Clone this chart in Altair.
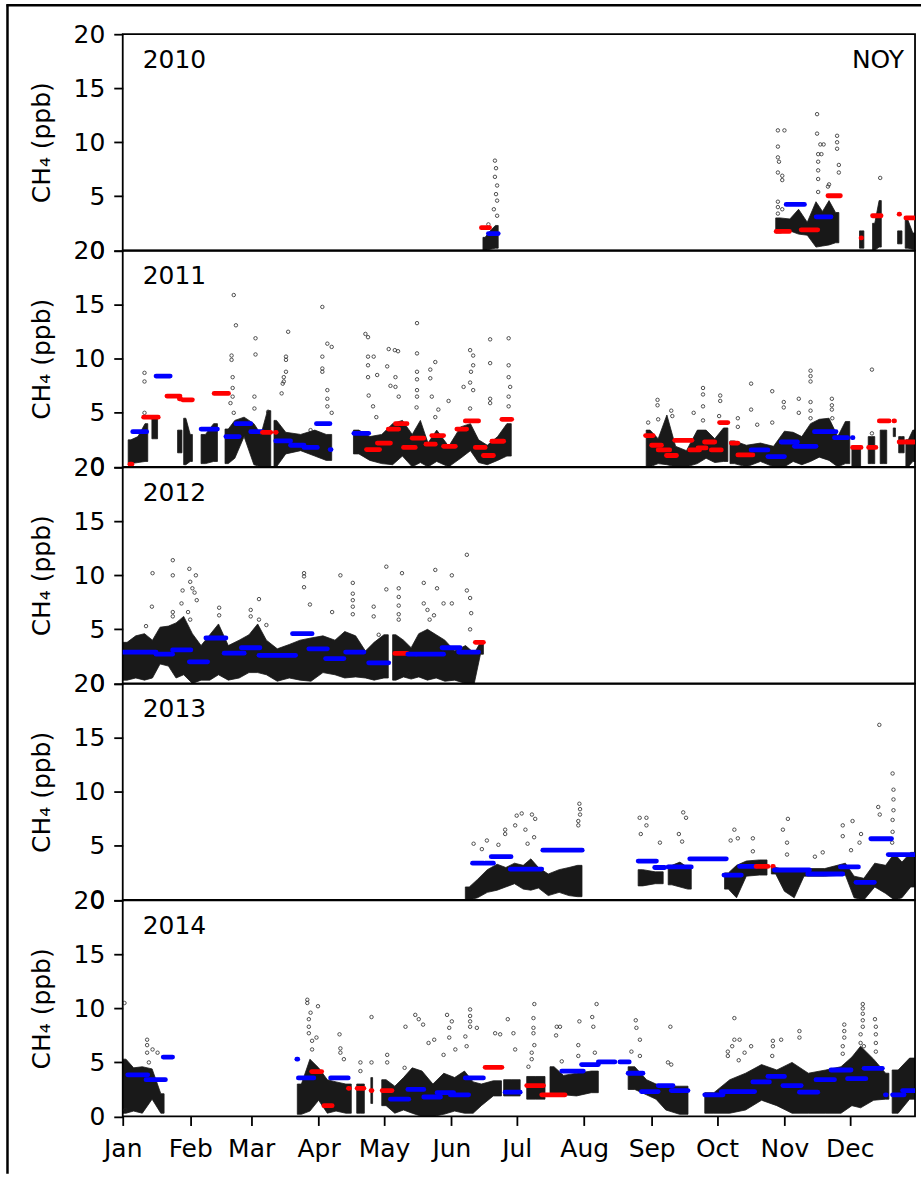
import altair as alt
import pandas as pd

# ---------------- data ----------------
YEARS = [2010, 2011, 2012, 2013, 2014]
SITE = "NOY"
Y_TITLE = "CH\u2084 (ppb)"
MONTH_NAMES = ["Jan", "Feb", "Mar", "Apr", "May", "Jun", "Jul", "Aug", "Sep", "Oct", "Nov", "Dec"]
MONTH_START_DAYS = [0, 31, 59, 90, 120, 151, 181, 212, 243, 273, 304, 334]
Y_TICKS = [0, 5, 10, 15, 20]

# dense hourly clouds: (day_start, day_end, low, high)
dense_2010 = [(165.5, 167.5, 0.0, 1.2), (167.5, 170, 0.1, 1.8), (170, 172.5, 0.2, 2.3),
              (300, 304, 1.6, 3.0), (304, 309, 1.8, 2.9), (309, 312, 1.5, 3.8), (312, 317, 1.4, 2.6),
              (317, 320, 0.3, 4.5), (320, 323, 0.4, 3.6), (323, 326, 0.5, 4.6), (326, 329, 0.7, 3.5),
              (338.5, 340.5, 0.2, 1.8), (344.5, 346.5, 0.0, 2.5), (346.5, 348.5, 0.3, 4.6),
              (356, 358, 0.6, 1.8), (359.5, 362, 0.2, 2.8), (362, 364, 0.1, 1.6)]
dense_2011 = [(2.5, 5, 0.3, 2.5), (5, 9, 0.4, 2.8), (9, 11.5, 0.5, 4.0), (13.4, 16, 2.6, 4.6),
              (25.2, 27.2, 1.3, 3.4), (28, 30, 0.2, 4.5), (30, 32, 0.5, 3.0), (36, 40, 0.3, 3.0),
              (40, 43.5, 0.5, 4.0), (47, 50, 0.3, 3.5), (50, 53, 0.8, 4.3), (53, 58.5, 2.8, 4.6),
              (58.5, 62, 0.2, 4.0), (62, 65, 0.0, 3.0), (65, 68, 0.0, 5.2), (69.5, 71.8, 0.0, 4.3),
              (71.8, 78, 1.2, 3.2), (78, 85.5, 1.5, 3.0), (85.5, 91, 1.0, 3.4), (91, 96, 0.6, 3.0),
              (106, 111, 1.2, 3.4), (111, 116, 0.6, 2.8), (116, 122, 0.3, 3.0), (122, 126, 0.2, 4.0),
              (126, 131, 1.0, 4.3), (131, 135, 0.0, 3.0), (135, 138.5, 0.4, 4.3), (138.5, 142, 0.0, 2.2),
              (142, 146.5, 0.5, 3.4), (146.5, 153, 0.0, 1.9), (153, 157.5, 0.8, 3.7), (157.5, 162, 1.5, 4.0),
              (162, 165, 0.4, 2.5), (165, 170, 0.2, 2.0), (170, 174.5, 0.6, 2.8), (174.5, 178.5, 1.0, 4.0),
              (240.5, 244, 0.0, 3.4), (244, 248, 0.3, 2.6), (248, 252, 0.2, 4.8), (252, 256, 0.0, 1.9),
              (256, 262, 0.0, 1.5), (262, 266, 0.3, 3.4), (266, 270, 0.8, 3.4), (270, 274, 0.4, 2.6),
              (274, 278, 0.5, 3.6), (279, 283, 0.3, 2.4), (283, 290, 0.0, 2.0), (290, 296, 0.5, 2.2),
              (296, 302, 0.0, 1.9), (302, 306, 0.0, 3.3), (306, 310, 0.5, 3.2), (310, 314, 0.2, 2.8),
              (314, 318, 0.5, 4.0), (318, 322, 0.9, 4.4), (322, 327, 0.6, 4.5), (327, 330, 0.0, 2.8),
              (330, 334, 0.3, 4.2), (335, 339, 0.0, 1.8), (342.5, 345.5, 0.3, 2.8), (348, 351, 0.3, 3.4),
              (354, 355, 2.8, 3.6), (356.5, 359, 1.3, 2.8), (359.8, 362, 0.0, 2.5), (362, 364, 0.5, 3.4)]
dense_2012 = [(0, 4, 0.3, 3.8), (4, 8, 0.5, 4.4), (8, 12, 0.3, 4.6), (12, 15.3, 0.5, 4.0),
              (15.3, 19, 1.8, 5.2), (19, 23, 1.6, 5.3), (23, 26, 0.5, 5.6), (26, 30, 0.8, 6.2),
              (30, 34, 0.0, 4.6), (34, 38, 0.3, 3.5), (38, 42, 0.3, 4.5), (42, 46, 0.8, 5.5),
              (46, 51, 0.3, 3.5), (51, 56, 0.5, 4.0), (56, 60, 1.0, 4.5), (60, 64, 1.0, 5.5),
              (64, 68, 0.8, 4.0), (68, 74, 0.2, 3.2), (74, 79, 0.5, 3.6), (79, 84, 0.3, 4.0),
              (84, 89, 0.2, 4.2), (89, 95, 1.0, 4.4), (95, 100, 0.8, 4.0), (100, 104, 0.5, 4.8),
              (104, 110, 0.6, 4.4), (110, 113, 0.5, 3.0), (113, 118, 0.3, 3.8), (118, 122, 0.5, 4.5),
              (124, 127, 0.3, 4.5), (127, 131, 0.6, 4.0), (131, 134, 0.4, 3.3), (134, 138, 0.6, 4.6),
              (138, 142, 0.3, 5.0), (142, 146, 0.5, 4.5), (146, 150, 0.2, 4.0), (150, 155, 0.3, 3.0),
              (155, 160, 0.0, 3.5), (160, 163, 0.0, 2.8), (163, 165.7, 2.7, 3.8)]
dense_2013 = [(157.4, 161, 0.0, 1.2), (161, 165, 0.2, 1.9), (165, 170, 0.7, 2.8), (170, 174, 0.9, 3.3),
              (174, 178, 1.2, 3.0), (178, 182, 1.5, 3.4), (182, 186, 1.0, 3.2), (186, 189, 0.9, 3.8),
              (189, 193, 1.1, 3.0), (193, 198, 0.4, 2.4), (198, 203, 0.7, 2.8), (203, 207, 0.4, 3.0),
              (207, 211, 0.3, 3.2), (236.8, 241, 1.3, 2.8), (241, 248.3, 1.5, 2.6), (250.6, 254, 1.4, 3.2),
              (254, 258, 1.2, 3.5), (258, 261.2, 1.0, 3.0), (276.5, 280, 1.0, 2.5), (280, 284, 0.2, 3.2),
              (284, 289, 2.2, 3.6), (289, 296, 2.3, 3.7), (298, 302, 2.4, 3.0), (302, 306, 0.8, 2.8),
              (306, 311, 0.2, 2.8), (311, 315, 2.2, 2.9), (315, 330, 2.2, 2.9), (330, 334, 2.3, 3.4),
              (334, 338, 0.2, 2.2), (338, 343, 0.0, 2.0), (343, 348, 1.2, 3.4), (348, 353, 0.6, 3.2),
              (353, 356, 0.0, 4.3), (356, 360, 0.2, 3.5), (360, 364, 1.2, 4.4)]
dense_2014 = [(0, 3, 0.3, 5.3), (3, 7, 0.5, 4.5), (7, 11, 0.3, 4.6), (11, 16, 1.6, 4.4), (16, 19, 0.3, 2.1),
              (80.2, 84, 0.2, 3.0), (84, 88, 0.5, 5.3), (88, 92, 1.5, 4.5), (92, 96, 0.3, 3.4),
              (96, 100, 0.5, 3.2), (100, 105, 0.3, 3.0), (107.5, 111, 0.3, 3.0), (114, 114.8, 1.2, 3.6),
              (119, 123, 1.0, 3.4), (123, 127, 0.3, 2.8), (127, 131, 0.6, 3.6), (131, 135, 0.3, 4.5),
              (135, 140, 0.0, 4.2), (140, 145, 0.0, 3.0), (145, 150, 0.2, 4.0), (150, 155, 0.5, 3.6),
              (155, 159, 0.3, 4.2), (159, 163, 0.3, 3.2), (163, 166.5, 1.0, 3.0), (166.5, 174, 1.9, 3.3),
              (175, 182.6, 1.9, 3.4), (185.6, 194, 1.6, 3.7), (196.3, 200, 1.9, 4.6), (200, 205, 2.0, 3.8),
              (205, 212, 1.9, 4.0), (212, 218.5, 2.2, 4.2), (232.2, 238.3, 2.5, 4.6), (238.3, 243, 2.0, 3.4),
              (243, 247, 1.6, 3.0), (247, 252, 0.6, 2.8), (252, 259.7, 0.2, 2.8), (267.4, 275.8, 0.3, 2.2),
              (275.8, 282, 0.3, 3.4), (282, 290.3, 0.6, 4.0), (290, 297, 1.5, 4.8), (297, 304, 1.0, 4.3),
              (304, 311, 0.3, 5.0), (311, 319, 0.3, 4.0), (319, 327, 0.3, 4.3), (327, 333, 0.3, 4.6),
              (333, 337, 1.0, 5.5), (337, 341, 0.8, 6.5), (341, 349, 1.5, 5.3), (349, 352, 1.6, 4.0),
              (353.5, 359, 0.3, 4.3), (359, 364, 1.6, 5.4)]

# sparse high readings: (day, value)
outliers_2010 = [(171, 8.3), (171.5, 7.6), (171, 6.8), (172, 6.0), (171.5, 5.2), (172, 4.6), (170.5, 3.8),
                 (172, 3.2), (168, 2.4), (301, 11.1), (304, 11.1), (301, 9.6), (301, 8.6), (301.5, 8.2),
                 (301, 7.2), (303, 6.9), (303, 6.5), (301, 4.5), (301, 4.0), (301, 3.4), (303, 3.8),
                 (319, 12.6), (319, 10.8), (320.5, 9.8), (322, 9.8), (321, 8.9), (319.5, 8.9), (319.5, 8.2),
                 (319.5, 7.4), (319.5, 6.6), (319.5, 5.4), (324, 5.9), (328.2, 10.6), (328.2, 10.0),
                 (328.2, 9.4), (329, 7.9), (329, 7.2), (324.5, 6.1), (348, 6.7)]
outliers_2011 = [(10, 8.7), (10, 7.9), (10, 5.0), (50, 10.3), (50, 9.9), (51, 15.9), (52, 13.1), (50.5, 8.3),
                 (50.5, 7.3), (50.5, 6.5), (49.5, 5.9), (51, 5.0), (61, 11.9), (61, 10.4), (60.5, 6.5),
                 (60.5, 5.4), (66.8, 5.1), (76, 12.5), (75, 10.2), (75, 9.9), (75, 8.8), (74, 8.3), (74, 7.9),
                 (73.5, 7.7), (73, 6.8), (86.3, 3.4), (91.7, 14.8), (91.7, 10.2), (91.7, 9.1), (91.7, 8.8),
                 (94, 11.4), (96, 11.1), (94, 7.1), (94, 6.3), (94, 5.6), (96, 5.0), (111.5, 12.3),
                 (112.7, 12.0), (112.7, 10.2), (112.7, 9.4), (112.7, 8.3), (115.3, 10.2), (116.9, 8.5),
                 (113, 6.6), (115, 5.6), (116.5, 4.6), (121.5, 9.3), (122.2, 10.9), (125, 10.8),
                 (126.5, 10.7), (123, 7.5), (125.3, 8.3), (125.3, 7.4), (126.8, 6.5), (135.2, 13.3),
                 (135.2, 10.5), (135.2, 8.8), (135.2, 8.1), (135.2, 7.1), (135.2, 6.5), (135, 5.5),
                 (141.3, 9.0), (143.6, 9.7), (141.3, 8.2), (142, 6.5), (143.6, 4.6), (145, 5.3), (149.7, 6.1),
                 (159.6, 10.8), (161, 10.3), (161, 9.4), (160, 8.8), (159.6, 7.8), (161, 7.1), (156.6, 7.4),
                 (159.6, 5.4), (168.8, 11.8), (168.8, 9.6), (168.8, 6.3), (168.8, 5.9), (177.3, 11.9),
                 (177.3, 9.4), (177.3, 8.3), (178, 7.4), (177.3, 6.5), (177.3, 5.6),
                 (241.4, 4.1), (245.7, 6.2), (245.7, 5.7), (246, 4.4), (252, 5.2), (252.5, 4.7), (262.3, 5.0),
                 (266.6, 7.3), (266.6, 6.7), (266.6, 5.6), (266.6, 4.3), (274.5, 6.6), (274.5, 6.1),
                 (274, 4.7), (282.6, 4.5), (282.6, 3.7), (288.7, 7.7), (288.7, 5.3), (291.5, 3.9),
                 (298.4, 7.0), (298.4, 4.1), (303.7, 6.0), (303.7, 5.5), (310.6, 6.3), (310.6, 5.0),
                 (316, 8.9), (316, 8.4), (316, 7.9), (316, 6.0), (316, 5.2), (316, 4.5), (325.8, 6.3),
                 (325.8, 5.7), (325.8, 5.3), (326, 4.5), (344.2, 9.0), (344.2, 3.1)]
outliers_2012 = [(23, 11.4), (23, 10.0), (13.7, 10.2), (13.4, 7.1), (30.6, 10.6), (33.6, 10.0), (31, 9.4),
                 (32, 8.8), (33, 8.4), (34, 7.7), (27.5, 8.6), (27, 7.4), (30, 6.6), (31, 5.9), (23, 6.6),
                 (23, 6.2), (10.7, 5.3), (44.3, 7.0), (44.3, 6.3), (58.8, 6.8), (58.8, 6.2), (62.6, 7.8),
                 (62.6, 5.9), (66, 5.4), (83.3, 10.2), (83.3, 9.9), (83.3, 8.9), (86, 7.3), (96.2, 6.6),
                 (100, 10.0), (105.7, 9.3), (105.7, 8.3), (105.7, 7.7), (105.7, 7.1), (105.7, 6.4),
                 (115.3, 7.1), (115.3, 6.2), (117.6, 4.5), (121.1, 10.8), (121.1, 8.7), (128.3, 10.2),
                 (126.8, 8.8), (126.8, 8.0), (126.8, 7.2), (126.8, 6.4), (126.8, 5.9), (138.3, 9.3),
                 (143.6, 10.5), (144.4, 8.8), (138.3, 7.4), (140, 6.8), (143, 6.3), (141, 5.9), (147.4, 7.4),
                 (151.2, 10.0), (151.2, 7.4), (158.1, 11.9), (158.1, 8.6), (159.6, 7.9), (160.1, 6.5),
                 (159.6, 5.0), (131.3, 0.9)]
outliers_2013 = [(161.2, 5.2), (167.3, 5.5), (165, 4.7), (172.6, 5.1), (175.7, 6.5), (175.7, 6.1), (180.3, 6.9),
                 (181, 7.8), (183.3, 8.0), (188, 7.9), (189.5, 7.5), (185, 6.5), (189, 5.8), (186, 5.2),
                 (209.8, 8.9), (210.1, 8.4), (210.1, 7.9), (209.3, 7.3), (209.3, 6.9), (237.5, 7.6),
                 (240.6, 7.6), (240.6, 6.9), (238, 6.1), (246.8, 5.3), (257.5, 8.1), (258.8, 7.6),
                 (255.5, 6.1), (257, 5.4), (281, 6.5), (282.6, 5.7), (279.3, 5.5), (289.5, 5.7), (289.5, 4.5),
                 (303.3, 6.5), (305.6, 7.5), (305.2, 5.3), (305.2, 4.2), (318, 4.0), (321.6, 4.4),
                 (330.8, 6.9), (330.8, 5.9), (335.3, 7.3), (334.6, 4.6), (339.2, 6.1), (338.5, 5.3),
                 (347.6, 16.2), (347.1, 8.6), (347.8, 7.9), (353.7, 11.7), (354.1, 10.2), (354.1, 9.3),
                 (354.1, 8.3), (353.7, 7.4), (353.7, 6.3), (353.5, 5.3)]
outliers_2014 = [(0.8, 10.5), (1.2, 0.6), (11.2, 7.1), (11.2, 6.6), (11.2, 5.9), (13.7, 6.2), (16, 5.9), (12, 5.0),
                 (84.8, 10.8), (84.8, 10.5), (89.7, 10.2), (86.3, 9.6), (85.5, 9.0), (85.5, 8.3), (85.5, 7.7),
                 (87, 7.0), (87, 6.2), (89, 7.3), (99.6, 7.6), (100, 6.3), (100, 5.9), (101.6, 5.3),
                 (109.2, 5.0), (109.2, 4.2), (114.3, 9.2), (114.3, 5.0), (121.5, 5.7), (121.5, 5.0),
                 (129.9, 8.3), (129.5, 4.5), (134.4, 9.4), (138, 8.5), (136, 9.0), (140.5, 6.8), (143.1, 7.1),
                 (149, 9.4), (151.2, 8.8), (150, 8.2), (150, 7.3), (159.6, 9.9), (159.6, 9.3), (159.6, 8.8),
                 (159.6, 8.3), (162.7, 8.2), (157.4, 7.4), (158, 6.5), (171.1, 7.7), (173.4, 7.6),
                 (176.9, 9.0), (179.5, 7.7), (180.3, 6.2), (147.4, 5.7), (152.8, 6.2),
                 (189.1, 10.4), (188.7, 9.1), (188.7, 8.2), (188.7, 7.7), (189.1, 6.6), (187.9, 5.9),
                 (187.9, 5.3), (186.4, 4.6), (199.4, 8.3), (199.1, 7.5), (200.9, 8.3), (201.7, 5.1),
                 (209.8, 8.8), (209.3, 6.6), (209.3, 5.6), (215.7, 9.2), (216.2, 8.3), (217.7, 10.4),
                 (216.9, 5.9), (235.7, 8.9), (236, 8.2), (233.7, 6.0), (237.6, 7.1), (237.6, 5.6),
                 (251.6, 8.3), (250.5, 5.0), (252, 4.8), (281, 9.1), (281, 7.1), (283.4, 7.1), (278, 6.0),
                 (278, 5.6), (280, 6.5), (283, 5.2), (285.7, 5.9), (288.7, 6.5), (298.7, 7.0), (298.7, 6.5),
                 (298.4, 5.6), (302.5, 7.1), (310.9, 7.9), (310.9, 7.3), (331.5, 8.5), (331.5, 7.9),
                 (331.5, 7.3), (330.8, 6.5), (330.8, 5.8), (340, 10.4), (340, 10.0), (340, 9.5), (340, 8.9),
                 (340, 8.3), (339, 7.6), (339, 6.8), (345.6, 9.0), (346, 8.3), (346, 7.6), (346, 6.8),
                 (346, 6.0), (340.5, 6.5)]

# weekly means: (day_start, day_end, value, flag)
means_2010 = [(164.8, 168.5, 2.1, "r"), (168, 172.5, 1.55, "b"), (300.2, 306.3, 1.75, "r"),
              (304.8, 313.2, 4.25, "b"), (311.7, 319.3, 1.9, "r"), (318.6, 325.4, 3.1, "b"),
              (324, 329.7, 5.05, "r"), (339.2, 339.4, 1.15, "r"), (344.5, 348.4, 3.2, "r"),
              (356.7, 356.9, 3.35, "r"), (359.8, 363.6, 3.0, "r")]
means_2011 = [(3.3, 4.2, 0.25, "r"), (4.6, 11, 3.26, "b"), (9.6, 13, 4.6, "r"), (13.4, 16.3, 4.6, "r"),
              (15.3, 21.8, 8.4, "b"), (20.3, 26.3, 6.55, "r"), (26, 26.6, 6.3, "r"), (27.5, 32, 6.2, "r"),
              (36, 43.5, 3.5, "b"), (42, 48.6, 6.8, "r"), (47.4, 53.5, 2.8, "b"), (52, 58.8, 4.0, "b"),
              (58.8, 64.2, 3.26, "b"), (64.2, 68, 3.2, "r"), (70.2, 70.5, 3.2, "r"), (70.3, 77.1, 2.4, "b"),
              (77.1, 83.3, 2.0, "b"), (83.3, 89.4, 1.8, "b"), (89, 95.2, 4.0, "b"), (95.3, 95.7, 1.6, "b"),
              (106.2, 113, 3.1, "b"), (112, 118, 1.6, "r"), (117, 123, 2.2, "r"), (122, 126.8, 3.5, "r"),
              (125.3, 130.6, 4.0, "r"), (129, 134.4, 1.8, "r"), (133, 138.3, 2.65, "r"),
              (139.3, 143.6, 2.1, "r"), (142, 147.4, 2.9, "r"), (147.4, 152.8, 1.9, "r"),
              (153.5, 158, 3.5, "r"), (157.4, 163.5, 4.25, "r"), (162, 166.5, 1.8, "r"),
              (165.7, 170.3, 1.05, "r"), (169.6, 175, 2.37, "r"), (174.2, 178.7, 4.4, "r"),
              (240.2, 243.7, 2.9, "r"), (243, 247.5, 2.0, "r"), (246, 251.3, 1.57, "r"),
              (249.8, 254.4, 1.05, "r"), (253.6, 261.5, 2.46, "r"), (260.5, 265, 1.57, "r"),
              (264.3, 268, 1.75, "r"), (267.3, 272, 2.3, "r"), (270.4, 275, 1.57, "r"),
              (274.2, 278, 4.1, "r"), (279.6, 282.6, 2.2, "r"), (282.6, 289.5, 1.1, "r"),
              (288.7, 296.4, 1.57, "b"), (296.4, 304, 0.95, "b"), (302.5, 310, 2.3, "b"),
              (308.6, 318.5, 1.9, "b"), (317.8, 327.7, 3.26, "b"), (327, 333, 2.7, "b"),
              (335.2, 335.5, 2.7, "b"), (335.3, 339.2, 1.8, "r"), (342.7, 346, 1.8, "r"),
              (347.6, 352.1, 4.25, "r"), (354.3, 354.6, 4.25, "r"), (356.7, 359, 2.3, "r"),
              (359.8, 363.6, 2.3, "r")]
means_2012 = [(0, 15.3, 2.9, "b"), (15.3, 22.9, 2.7, "b"), (22.9, 31.3, 3.1, "b"), (30.6, 39, 2.0, "b"),
              (38.2, 47.4, 4.2, "b"), (46.6, 55.8, 2.8, "b"), (54.5, 63, 3.3, "b"), (62.6, 79.4, 2.6, "b"),
              (78, 87, 4.6, "b"), (85.5, 94, 3.2, "b"), (93.2, 101.6, 2.3, "b"), (102.4, 110.8, 2.9, "b"),
              (113, 122.2, 1.9, "b"), (125, 130.6, 2.77, "r"), (131, 134.7, 2.7, "b"),
              (135, 147.4, 2.7, "b"), (146.7, 155, 3.3, "b"), (154.3, 163.5, 2.9, "b"),
              (162, 165.7, 3.8, "r")]
means_2013 = [(160.7, 165.8, 3.4, "b"), (166.5, 170.3, 3.4, "b"), (169.3, 178.4, 4.0, "b"),
              (178, 192.5, 2.86, "b"), (193, 211.1, 4.6, "b"), (236.8, 245.2, 3.6, "b"),
              (244.4, 249, 3.0, "b"), (250.6, 261.2, 3.05, "b"), (260.5, 277.3, 3.8, "b"),
              (276.2, 284.2, 2.3, "b"), (283.4, 291, 3.1, "b"), (291, 296.4, 3.1, "r"),
              (298.6, 298.9, 3.1, "r"), (299.4, 315.5, 2.77, "b"), (314.7, 330.8, 2.4, "b"),
              (329.7, 338, 3.05, "b"), (336.9, 345.3, 1.63, "b"), (343.7, 353.2, 5.66, "b"),
              (351.7, 364, 4.2, "b")]
means_2014 = [(2.3, 11.5, 3.85, "b"), (10.7, 19.6, 3.4, "b"), (18.6, 22.9, 5.5, "b"), (80, 80.4, 5.3, "b"),
              (80.7, 87.8, 3.57, "b"), (86.8, 91.4, 4.15, "r"), (92.4, 96.2, 1.0, "r"),
              (95.5, 103.6, 3.57, "b"), (103.7, 104.1, 2.6, "r"), (107.7, 110.8, 2.6, "r"),
              (114.1, 114.5, 2.4, "r"), (119.2, 123.7, 2.4, "r"), (123, 131.4, 1.6, "b"),
              (131, 138.3, 2.5, "b"), (138.3, 146, 1.8, "b"), (144.4, 152, 2.2, "b"),
              (150.5, 158.9, 2.0, "b"), (157.4, 165.7, 3.57, "b"), (166.5, 174.2, 4.55, "r"),
              (175.7, 182.6, 2.25, "b"), (185.6, 193.3, 2.86, "r"), (192.5, 203.2, 2.0, "r"),
              (201.7, 211.6, 4.2, "b"), (210.8, 218.5, 4.8, "b"), (218.5, 226.1, 5.05, "b"),
              (228.4, 232.7, 5.05, "b"), (232.2, 239, 4.0, "b"), (238.3, 246, 2.3, "b"),
              (246, 252.8, 2.86, "b"), (252, 259.7, 2.4, "b"), (267.4, 275.8, 2.0, "b"),
              (275, 290.3, 2.3, "b"), (289.5, 297.1, 3.2, "b"), (296.4, 304, 3.7, "b"),
              (303.3, 311.7, 2.86, "b"), (310.9, 319.3, 2.25, "b"), (318.5, 327, 3.4, "b"),
              (325.4, 334.6, 4.3, "b"), (333, 341.4, 3.5, "b"), (340.6, 349, 4.45, "b"),
              (350.4, 350.8, 2.0, "b"), (353.7, 359, 2.0, "b"), (358.3, 364, 2.4, "b")]

DENSE = dict(zip(YEARS, [dense_2010, dense_2011, dense_2012, dense_2013, dense_2014]))
OUTLIERS = dict(zip(YEARS, [outliers_2010, outliers_2011, outliers_2012, outliers_2013, outliers_2014]))
MEANS = dict(zip(YEARS, [means_2010, means_2011, means_2012, means_2013, means_2014]))

# ---------------- chart ----------------
W = 794
H = 216.6
FONT = "DejaVu Sans"
FS = 25

label_expr = "[" + ",".join("'%s'" % m for m in MONTH_NAMES) + "][indexof([" + \
    ",".join(str(d) for d in MONTH_START_DAYS) + "], datum.value)]"


def cloud_vertices(blocks):
    """Outline of each contiguous run of read blocks: run ends + block centres."""
    rows, g, prev_end, run = [], 0, None, []

    def flush(run, g):
        out = [(g, run[0][0], run[0][2], run[0][3])]
        out += [(g, (b[0] + b[1]) / 2.0, b[2], b[3]) for b in run]
        out += [(g, run[-1][1], run[-1][2], run[-1][3])]
        return out

    for b in blocks:
        if prev_end is not None and b[0] - prev_end > 0.6:
            rows += flush(run, g)
            g += 1
            run = []
        run.append(b)
        prev_end = b[1]
    if run:
        rows += flush(run, g)
    return pd.DataFrame(rows, columns=["g", "day", "lo", "hi"])


def panel(year, bottom, first):
    xs = alt.Scale(domain=[0, 364], nice=False, zero=False)
    ys = alt.Scale(domain=[0, 20], nice=False, zero=True)
    if bottom:
        xaxis = alt.Axis(values=MONTH_START_DAYS, labelExpr=label_expr, title=None,
                         labelFlush=False, labelOverlap=False, labelPadding=11)
    else:
        xaxis = None
    yaxis = alt.Axis(values=Y_TICKS, title=Y_TITLE, labelFlush=False, labelOverlap=False,
                     titlePadding=19)

    def X(f):
        return alt.X(f, type="quantitative", scale=xs, axis=xaxis)

    def Y(f):
        return alt.Y(f, type="quantitative", scale=ys, axis=yaxis)

    dd = cloud_vertices(DENSE[year])
    od = pd.DataFrame(OUTLIERS[year], columns=["day", "v"])
    md = pd.DataFrame(MEANS[year], columns=["d0", "d1", "v", "flag"])

    dense = alt.Chart(dd).mark_area(color="black", opacity=0.9, clip=True, interpolate="linear",
                                    stroke="black", strokeWidth=0.8).encode(
        x=X("day"), y=Y("lo"), y2="hi", detail="g:N")
    pts = alt.Chart(od).mark_point(shape="circle", filled=False, size=12, strokeWidth=1,
                                   color="#222222", opacity=0.8, clip=True).encode(
        x=X("day"), y=Y("v"))
    means = alt.Chart(md).mark_rule(strokeWidth=4.8, strokeCap="round", clip=True).encode(
        x=X("d0"), x2="d1", y=Y("v"),
        color=alt.Color("flag:N", scale=alt.Scale(domain=["r", "b"], range=["#ff0000", "#0000ff"]),
                        legend=None))
    ylab = alt.Chart(pd.DataFrame({"t": [str(year)]})).mark_text(
        align="left", baseline="alphabetic", font=FONT, fontSize=FS, color="black").encode(
        x=alt.value(20), y=alt.value(33.5), text="t:N")
    layers = [dense, pts, means, ylab]
    if first:
        site = alt.Chart(pd.DataFrame({"t": [SITE]})).mark_text(
            align="right", baseline="alphabetic", font=FONT, fontSize=FS, color="black").encode(
            x=alt.value(W - 11), y=alt.value(33.5), text="t:N")
        frame_df = pd.DataFrame({"k": [0]})
        left_line = alt.Chart(frame_df).mark_rule(color="black", strokeWidth=2.5, clip=False).encode(
            x=alt.value(-115.5), y=alt.value(-30), y2=alt.value(1142))
        top_line = alt.Chart(frame_df).mark_rule(color="black", strokeWidth=2.5, clip=False).encode(
            x=alt.value(-116.5), x2=alt.value(800), y=alt.value(-29))
        layers += [site, left_line, top_line]
    return alt.layer(*layers).properties(width=W, height=H)


panels = [panel(y, bottom=(i == len(YEARS) - 1), first=(i == 0)) for i, y in enumerate(YEARS)]

chart = alt.vconcat(*panels, spacing=0, bounds="flush").properties(
    padding={"left": 4, "top": 0, "right": 0, "bottom": 0}
).configure_view(
    stroke="black", strokeWidth=1.8
).configure_axis(
    labelFont=FONT, titleFont=FONT, labelFontSize=FS, titleFontSize=FS,
    labelColor="black", titleColor="black", titleFontWeight="normal",
    tickColor="black", tickWidth=1.8, tickSize=9, domain=False, grid=False, labelPadding=9
)

chart.save("out.html", embed_options={"renderer": "svg", "actions": False})
